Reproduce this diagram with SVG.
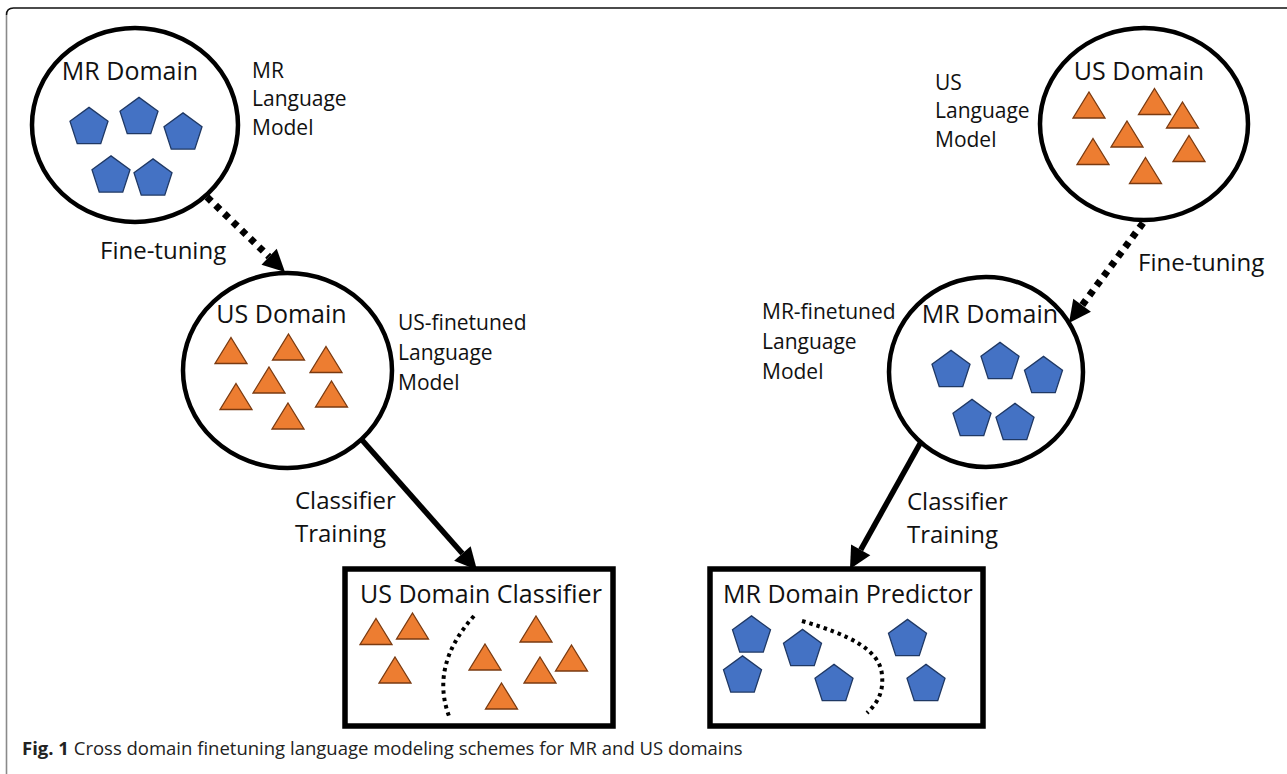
<svg xmlns="http://www.w3.org/2000/svg" xmlns:xlink="http://www.w3.org/1999/xlink" width="1287" height="774" viewBox="0 0 1287 774">
<style>
.lbl{font-family:"Open Sans","Liberation Sans",sans-serif;fill:#111}
.title{font-size:25px}
.side{font-size:21px}
.edge{font-size:24px}
.circ{fill:#fff;stroke:#000;stroke-width:4.5}
.box{fill:#fff;stroke:#000;stroke-width:5.5}
.tri{fill:#ED7D31;stroke:#7a3a10;stroke-width:1.3}
.pent{fill:#4472C4;stroke:#1f3864;stroke-width:1.3}
.dotted{fill:none;stroke:#000;stroke-width:7;stroke-dasharray:6 6}
.solid{fill:none;stroke:#000;stroke-width:5.5}
.sep{fill:none;stroke:#000;stroke-width:4;stroke-dasharray:3.5 4}
.cap{font-family:"Open Sans","Liberation Sans",sans-serif;font-size:18.5px;fill:#222}
</style>
<defs>
<polygon id="pent" class="pent" points="0,-18.1 19.02,-4.28 11.76,18.08 -11.76,18.08 -19.02,-4.28"/>
<polygon id="tri" class="tri" points="0,-13 16,13 -16,13"/>
<marker id="ah" markerUnits="userSpaceOnUse" markerWidth="24" markerHeight="24" refX="0" refY="11" orient="auto" overflow="visible">
<path d="M0,0 L22,11 L0,22 Z" fill="#000"/>
</marker>
</defs>
<rect width="1287" height="774" fill="#fff"/>
<g id="frame">
<path d="M6.5,774 L6.5,15" fill="none" stroke="#8a8a8a" stroke-width="1.6"/>
<path d="M6.5,15 Q6.5,8 13.5,8 L1287,8" fill="none" stroke="#111" stroke-width="1.6"/>
</g>
<g id="connectors">
<line class="dotted" x1="207" y1="197" x2="269.1" y2="256.7" marker-end="url(#ah)"/>
<line class="dotted" x1="1143" y1="223" x2="1082.1" y2="305.3" marker-end="url(#ah)"/>
<line class="solid" x1="362" y1="440" x2="462.4" y2="553.5" marker-end="url(#ah)"/>
<line class="solid" x1="922" y1="440" x2="860.7" y2="549.8" marker-end="url(#ah)"/>
<text class="lbl edge" x="100" y="259">Fine-tuning</text>
<text class="lbl edge" x="1138" y="271">Fine-tuning</text>
<text class="lbl edge" x="295" y="509">Classifier</text>
<text class="lbl edge" x="295" y="542">Training</text>
<text class="lbl edge" x="907" y="510">Classifier</text>
<text class="lbl edge" x="907" y="543">Training</text>
</g>
<g id="mr-domain-top">
<ellipse class="circ" cx="135" cy="125" rx="103" ry="97"/>
<text class="lbl title" x="130" y="80" text-anchor="middle">MR Domain</text>
<use href="#pent" x="89" y="125.5"/>
<use href="#pent" x="139" y="115.5"/>
<use href="#pent" x="183" y="131"/>
<use href="#pent" x="111" y="174"/>
<use href="#pent" x="153" y="177"/>
<text class="lbl side" x="252" y="78">MR</text>
<text class="lbl side" x="252" y="106">Language</text>
<text class="lbl side" x="252" y="135">Model</text>
</g>
<g id="us-domain-mid">
<ellipse class="circ" cx="287.5" cy="370.5" rx="104.5" ry="97.5"/>
<text class="lbl title" x="281.5" y="323" text-anchor="middle">US Domain</text>
<use href="#tri" x="231" y="350.5"/>
<use href="#tri" x="288.5" y="347"/>
<use href="#tri" x="326" y="359.5"/>
<use href="#tri" x="269" y="380"/>
<use href="#tri" x="236" y="396.5"/>
<use href="#tri" x="331.5" y="394"/>
<use href="#tri" x="288" y="416"/>
<text class="lbl side" x="398" y="330">US-finetuned</text>
<text class="lbl side" x="398" y="360">Language</text>
<text class="lbl side" x="398" y="390">Model</text>
</g>
<g id="us-domain-top">
<ellipse class="circ" cx="1144" cy="124" rx="104" ry="96"/>
<text class="lbl title" x="1139" y="80" text-anchor="middle">US Domain</text>
<use href="#tri" x="1089" y="105"/>
<use href="#tri" x="1154.5" y="101.5"/>
<use href="#tri" x="1182.5" y="115"/>
<use href="#tri" x="1127" y="134"/>
<use href="#tri" x="1093" y="151.5"/>
<use href="#tri" x="1189" y="148.5"/>
<use href="#tri" x="1145.5" y="170.5"/>
<text class="lbl side" x="935" y="90">US</text>
<text class="lbl side" x="935" y="118">Language</text>
<text class="lbl side" x="935" y="147">Model</text>
</g>
<g id="mr-domain-mid">
<ellipse class="circ" cx="986" cy="372" rx="97" ry="95"/>
<text class="lbl title" x="990" y="323" text-anchor="middle">MR Domain</text>
<use href="#pent" x="951" y="368.5"/>
<use href="#pent" x="1000" y="360.5"/>
<use href="#pent" x="1043.5" y="374.5"/>
<use href="#pent" x="972" y="417.5"/>
<use href="#pent" x="1015" y="421.5"/>
<text class="lbl side" x="762" y="319">MR-finetuned</text>
<text class="lbl side" x="762" y="349">Language</text>
<text class="lbl side" x="762" y="379">Model</text>
</g>
<g id="us-classifier">
<rect class="box" x="345" y="569" width="268" height="157"/>
<text class="lbl title" x="360" y="603">US Domain Classifier</text>
<use href="#tri" x="376" y="631.5"/>
<use href="#tri" x="412.5" y="626"/>
<use href="#tri" x="395" y="670"/>
<use href="#tri" x="485" y="657"/>
<use href="#tri" x="536" y="629"/>
<use href="#tri" x="571.5" y="658"/>
<use href="#tri" x="540" y="670"/>
<use href="#tri" x="501.5" y="696"/>
<path class="sep" d="M474,616 Q430,665 449,716"/>
</g>
<g id="mr-predictor">
<rect class="box" x="710" y="569" width="273" height="157"/>
<text class="lbl title" x="723" y="603">MR Domain Predictor</text>
<use href="#pent" x="751.5" y="634"/>
<use href="#pent" x="742.5" y="674"/>
<use href="#pent" x="802.5" y="647.5"/>
<use href="#pent" x="834" y="682.5"/>
<use href="#pent" x="907.5" y="637.5"/>
<use href="#pent" x="926" y="682.5"/>
<path class="sep" d="M802,621 C850,635 880,650 882,675 C884,695 875,705 867,713"/>
</g>
<g id="caption">
<text class="cap" x="22" y="755"><tspan font-weight="bold">Fig. 1</tspan> Cross domain finetuning language modeling schemes for MR and US domains</text>
</g>
</svg>
